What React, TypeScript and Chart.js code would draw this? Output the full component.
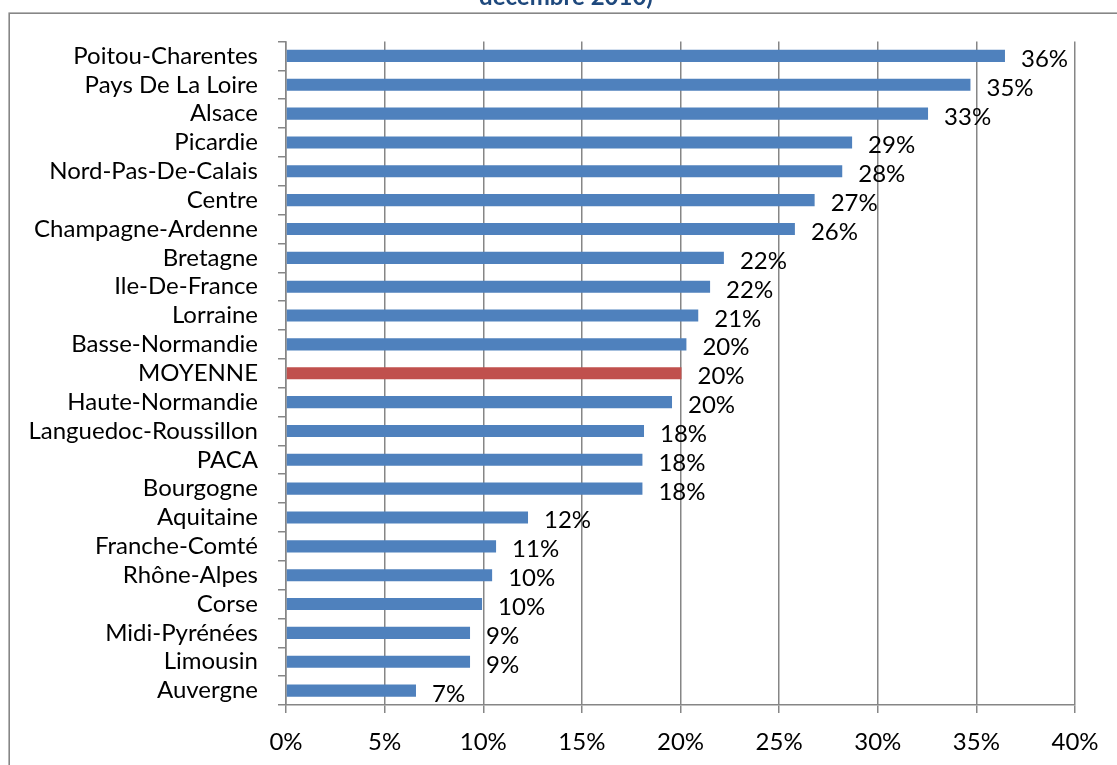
import React, { useEffect, useRef } from "react";
import { Chart, registerables } from "chart.js";

Chart.register(...registerables);

// Regions, sorted by rate (highest first); MOYENNE is the national average
const regions = [
  "Poitou-Charentes",
  "Pays De La Loire",
  "Alsace",
  "Picardie",
  "Nord-Pas-De-Calais",
  "Centre",
  "Champagne-Ardenne",
  "Bretagne",
  "Ile-De-France",
  "Lorraine",
  "Basse-Normandie",
  "MOYENNE",
  "Haute-Normandie",
  "Languedoc-Roussillon",
  "PACA",
  "Bourgogne",
  "Aquitaine",
  "Franche-Comté",
  "Rhône-Alpes",
  "Corse",
  "Midi-Pyrénées",
  "Limousin",
  "Auvergne",
];

// Rates in percent
const rates = [
  36.45, 34.7, 32.55, 28.7, 28.2, 26.8, 25.8, 22.2, 21.5, 20.9, 20.3, 20.05,
  19.57, 18.15, 18.07, 18.07, 12.27, 10.65, 10.45, 9.94, 9.33, 9.33, 6.59,
];

const averageName = "MOYENNE";
const axisMin = 0;
const axisMax = 40;
const axisStep = 5;
const titleTail = "décembre 2010)";

const FONT_FAMILY = "Lato, 'Open Sans', sans-serif";
const FONT_SIZE = 24;
const GRAY = "#868686";
const BLUE = "#4F81BD";
const RED = "#C0504D";

const decorPlugin = {
  id: "decor",
  afterDatasetsDraw(chart: any) {
    const ctx = chart.ctx;
    const meta = chart.getDatasetMeta(0);
    ctx.save();
    ctx.font = `${FONT_SIZE}px ${FONT_FAMILY}`;
    ctx.fillStyle = "#000";
    ctx.textAlign = "left";
    ctx.textBaseline = "alphabetic";
    meta.data.forEach((bar: any, i: number) => {
      ctx.fillText(`${Math.round(rates[i])}%`, bar.x + 16, bar.y + 11);
    });
    ctx.restore();
  },
  afterDraw(chart: any) {
    const ctx = chart.ctx;
    ctx.save();
    // chart frame
    ctx.strokeStyle = GRAY;
    ctx.lineWidth = 1.6;
    ctx.strokeRect(9.2, 13.2, chart.width + 20, chart.height + 20);
    // title (second line)
    ctx.font = `bold ${FONT_SIZE}px ${FONT_FAMILY}`;
    ctx.fillStyle = "#1F497D";
    ctx.textAlign = "center";
    ctx.textBaseline = "alphabetic";
    ctx.fillText(titleTail, 566, 5);
    ctx.restore();
  },
};

export default function App() {
  const canvasRef = useRef<HTMLCanvasElement | null>(null);

  useEffect(() => {
    const canvas = canvasRef.current;
    if (!canvas) return;
    const font = { family: FONT_FAMILY, size: FONT_SIZE };
    const chart = new Chart(canvas, {
      type: "bar",
      data: {
        labels: regions,
        datasets: [
          {
            data: rates,
            backgroundColor: regions.map((r) => (r === averageName ? RED : BLUE)),
            barPercentage: 0.42,
            categoryPercentage: 1,
          },
        ],
      },
      options: {
        indexAxis: "y",
        responsive: false,
        animation: false,
        devicePixelRatio: 1,
        layout: { padding: { top: 41.5, right: 42, left: 0, bottom: 0 } },
        plugins: {
          legend: { display: false },
          tooltip: { enabled: false },
          title: { display: false },
        },
        scales: {
          x: {
            type: "linear",
            min: axisMin,
            max: axisMax,
            afterFit: (s: any) => {
              s.height = 60;
            },
            ticks: {
              stepSize: axisStep,
              callback: (v: any) => `${v}%`,
              font,
              color: "#000",
              padding: 15,
            },
            grid: { color: GRAY, lineWidth: 1.5, tickLength: 8 },
            border: { color: GRAY, width: 1.5 },
          },
          y: {
            type: "category",
            afterFit: (s: any) => {
              s.width = 286;
            },
            ticks: { font, color: "#000", padding: 20, autoSkip: false },
            grid: {
              offset: true,
              drawOnChartArea: false,
              color: GRAY,
              lineWidth: 1.5,
              tickLength: 8,
            },
            border: { color: GRAY, width: 1.5 },
          },
        },
      } as any,
      plugins: [decorPlugin],
    });
    return () => chart.destroy();
  }, []);

  return (
    <canvas
      ref={canvasRef}
      width={1117}
      height={765}
      style={{ position: "absolute", left: 0, top: 0, display: "block" }}
    />
  );
}
